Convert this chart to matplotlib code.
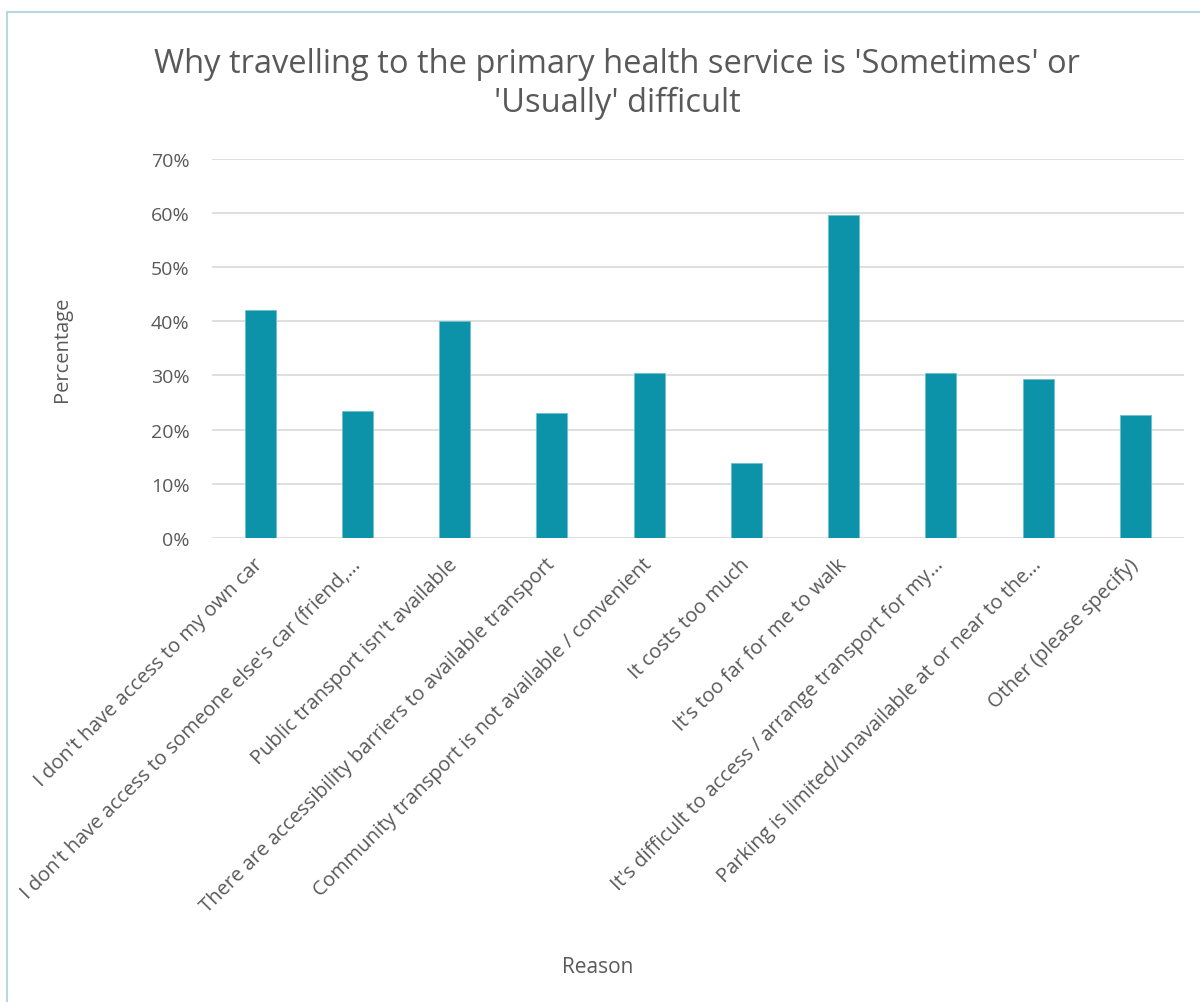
import matplotlib
matplotlib.use('Agg')
import matplotlib.pyplot as plt
from matplotlib.ticker import PercentFormatter
from matplotlib.lines import Line2D

# data
reasons = [
    "I don't have access to my own car",
    "I don't have access to someone else's car (friend,\u2026",
    "Public transport isn't available",
    "There are accessibility barriers to available transport",
    "Community transport is not available / convenient",
    "It costs too much",
    "It's too far for me to walk",
    "It's difficult to access / arrange transport for my\u2026",
    "Parking is limited/unavailable at or near to the\u2026",
    "Other (please specify)",
]
pct = [0.422, 0.234, 0.400, 0.230, 0.304, 0.138, 0.598, 0.304, 0.293, 0.227]
yticks = [0, 0.1, 0.2, 0.3, 0.4, 0.5, 0.6, 0.7]

plt.rcParams['font.family'] = ['Open Sans', 'DejaVu Sans']
txt = '#595959'

fig = plt.figure(figsize=(12, 10.03), dpi=100)
ax = fig.add_axes([0.1763, 0.4631, 0.8104, 0.3769])

x = range(len(reasons))
ax.bar(x, pct, width=0.32, color='#0c93aa', edgecolor='#6cc0cf', linewidth=0.6, zorder=3)

ax.set_xlim(-0.5, len(reasons) - 0.5)
ax.set_ylim(0, 0.7)
ax.set_yticks(yticks)
ax.yaxis.set_major_formatter(PercentFormatter(1.0, decimals=0))
ax.grid(axis='y', color='#d9d9d9', linewidth=1.2, zorder=0)
for s in ax.spines.values():
    s.set_visible(False)
ax.tick_params(axis='both', length=0, colors=txt, labelsize=14)
ax.tick_params(axis='y', pad=16)

ax.set_xticks(list(x))
ax.set_xticklabels(reasons, rotation=45, ha='right', va='center', rotation_mode='anchor',
                   fontsize=14.5, color=txt)
ax.tick_params(axis='x', pad=17)

ax.set_ylabel('Percentage', fontsize=14.5, color=txt)
ax.yaxis.set_label_coords(-0.143, 0.5)
fig.text(598 / 1200, 1 - 968 / 1003, 'Reason', fontsize=15, color=txt, ha='center', va='center')

fig.text(617 / 1200, 1 - 84 / 1003,
         "Why travelling to the primary health service is 'Sometimes' or\n'Usually' difficult",
         fontsize=23.5, color=txt, ha='center', va='center', linespacing=1.25)

# chart border (light blue, cut off at right and bottom)
fig.add_artist(Line2D([7 / 1200, 1.0], [1 - 13 / 1003, 1 - 13 / 1003], color='#b7d7e3', linewidth=1.5))
fig.add_artist(Line2D([7 / 1200, 7 / 1200], [0, 1 - 13 / 1003], color='#b7d7e3', linewidth=1.5))

fig.savefig('out.png', dpi=100)
